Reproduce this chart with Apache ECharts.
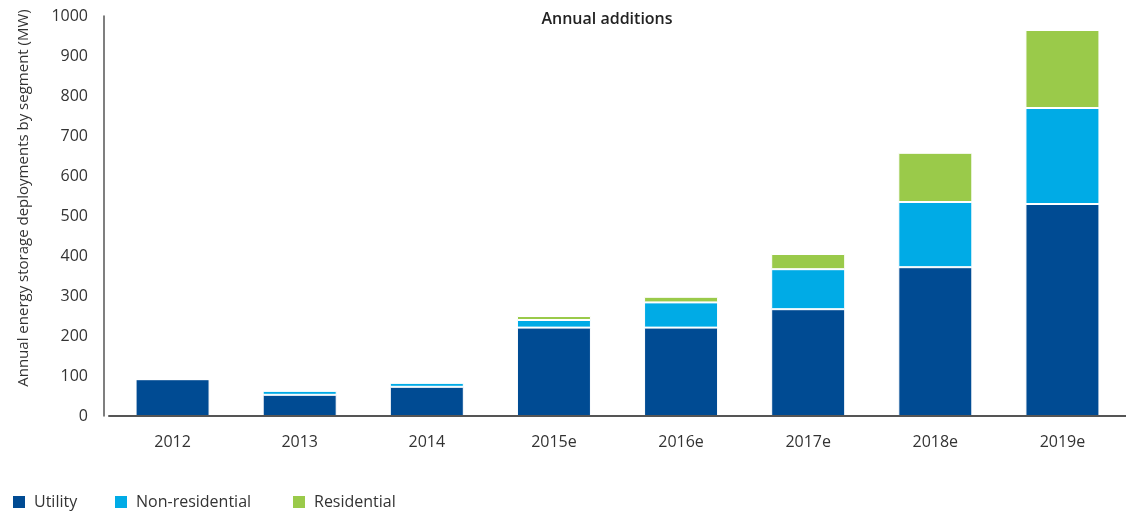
<!DOCTYPE html>
<html>
<head>
<meta charset="utf-8">
<script src="https://cdn.jsdelivr.net/npm/echarts@6/dist/echarts.min.js"></script>
<style>
html,body{margin:0;padding:0;background:#fff;}
#chart{width:1126px;height:516px;}
</style>
</head>
<body>
<div id="chart"></div>
<script>
const categories = ['2012','2013','2014','2015e','2016e','2017e','2018e','2019e'];
const utility = [92, 53, 73, 221, 221, 267, 372, 530];
const nonResidential = [0, 10, 10, 19, 63, 100, 163, 240];
const residential = [0, 0, 0, 10, 14, 38, 123, 195];
const yTicks = [0, 100, 200, 300, 400, 500, 600, 700, 800, 900, 1000];

const FONT = 'Open Sans';
const TXT = '#333333';
const chart = echarts.init(document.getElementById('chart'));
const seriesDef = [
  {name: 'Utility', data: utility, color: '#004B93'},
  {name: 'Non-residential', data: nonResidential, color: '#00ABE6'},
  {name: 'Residential', data: residential, color: '#9ACA4A'}
];
const legendLefts = [6, 108, 286];
chart.setOption({
  animation: false,
  textStyle: {fontFamily: FONT},
  title: {
    text: 'Annual additions',
    left: 602, top: 6, textAlign: 'center',
    textStyle: {fontFamily: FONT, fontSize: 16, fontWeight: 600, color: '#222'}
  },
  legend: seriesDef.map((s, i) => ({
    left: legendLefts[i], top: 489,
    itemWidth: 14, itemHeight: 14,
    icon: 'rect',
    textStyle: {fontFamily: FONT, fontSize: 16, color: TXT, padding: [0,0,0,3]},
    data: [s.name]
  })),
  grid: {left: 109, right: 0, top: 16, bottom: 100, outerBoundsMode: 'none'},
  xAxis: {
    type: 'category',
    data: categories,
    z: 10,
    axisLine: {lineStyle: {color: '#555', width: 2}},
    axisTick: {show: false},
    axisLabel: {fontFamily: FONT, fontSize: 16, color: TXT, margin: 18}
  },
  yAxis: {
    type: 'value',
    min: 0, max: 1000, interval: 100,
    offset: 5,
    name: 'Annual energy storage deployments by segment (MW)',
    nameLocation: 'middle',
    nameGap: 73,
    nameTextStyle: {fontFamily: FONT, fontSize: 15, color: TXT, padding: [0,0,0,36]},
    axisLine: {show: true, lineStyle: {color: '#555', width: 1.5}},
    axisTick: {show: false},
    splitLine: {show: false},
    axisLabel: {
      fontFamily: FONT, fontSize: 16, color: TXT, margin: 16,
      formatter: v => yTicks.includes(v) ? String(v) : ''
    }
  },
  series: seriesDef.map(s => ({
    name: s.name,
    type: 'bar',
    stack: 'total',
    data: s.data,
    barWidth: 74,
    itemStyle: {color: s.color, borderColor: '#fff', borderWidth: 1}
  }))
});
</script>
</body>
</html>
